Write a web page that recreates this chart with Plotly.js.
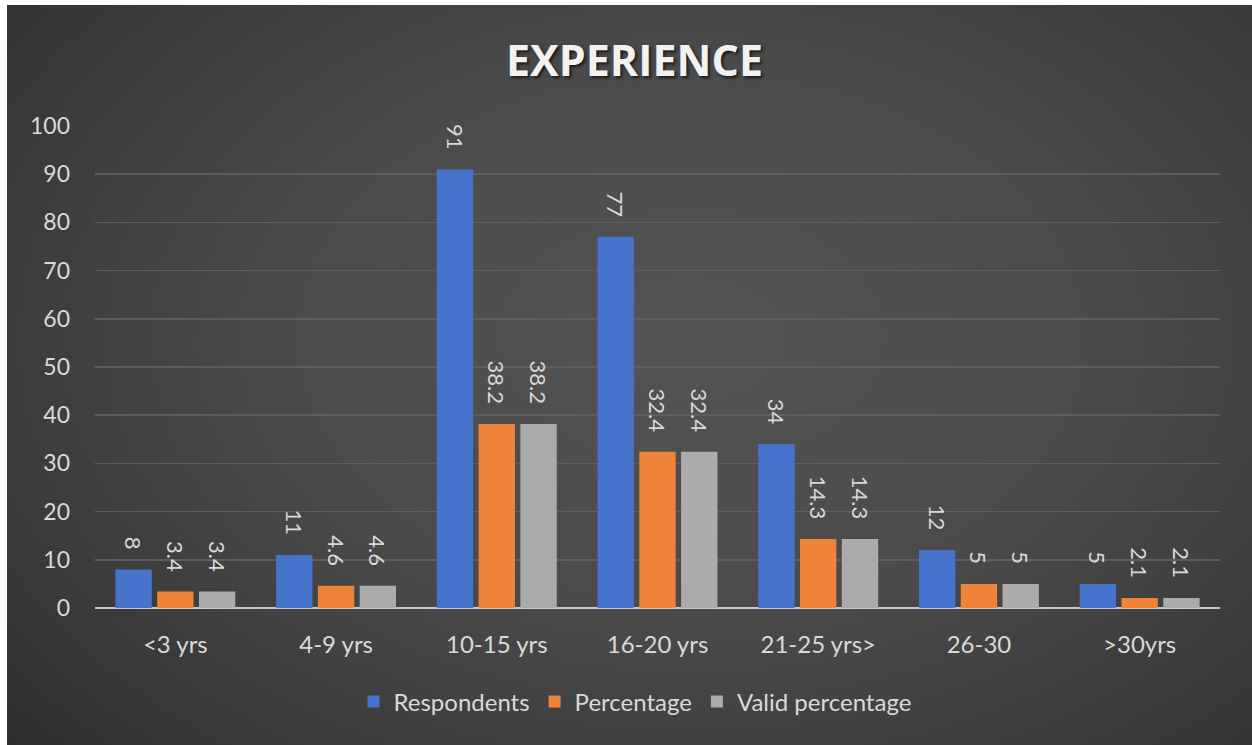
<!DOCTYPE html>
<html><head><meta charset="utf-8">
<script src="https://cdn.plot.ly/plotly-3.0.1.min.js"></script>
<style>
html,body{margin:0;padding:0;background:#fff;width:1252px;height:745px;overflow:hidden;}
#wrap{position:absolute;left:7px;top:5px;width:1245px;height:740px;
background:radial-gradient(ellipse 75% 85% at 55% 45%, #545454 0%, #4a4a4a 45%, #363636 85%, #2c2c2c 100%);}
#chart{width:1245px;height:740px;}
</style></head>
<body><div id="wrap"><div id="chart"></div></div>
<script>
const categories = ["<3 yrs","4-9 yrs","10-15 yrs","16-20 yrs","21-25 yrs>","26-30",">30yrs"];
const respondents = [8,11,91,77,34,12,5];
const percentage = [3.4,4.6,38.2,32.4,14.3,5,2.1];
const validPercentage = [3.4,4.6,38.2,32.4,14.3,5,2.1];
const seriesNames = ["Respondents","Percentage","Valid percentage"];
const colors = ["#4674cc","#f0833a","#ababab"];
const FONT = "Lato, 'Noto Sans', sans-serif";
const pad = "\u00a0\u00a0\u00a0";
function mk(name, vals, color){
  return {type:"bar", name:name, x:categories, y:vals,
    marker:{color:color},
    text: vals.map(v=>String(v)+pad), textposition:"outside", textangle:90,
    constraintext:"none", cliponaxis:false,
    textfont:{family:FONT,size:22,color:"#d9d9d9"},
    hoverinfo:"x+y"};
}
const data = [
  mk(seriesNames[0], respondents, colors[0]),
  mk(seriesNames[1], percentage, colors[1]),
  mk(seriesNames[2], validPercentage, colors[2])
];
const layout = {
  width:1245, height:740,
  paper_bgcolor:"rgba(0,0,0,0)", plot_bgcolor:"rgba(0,0,0,0)",
  margin:{l:88,r:32,t:121,b:137},
  title:{text:"<b>EXPERIENCE</b>", x:0.504, xanchor:"center", y:0.925, yanchor:"middle",
    font:{family:"'Open Sans', sans-serif",size:43,color:"#f2f2f2", shadow:"2px 2px 3px #1a1a1a"}},
  barmode:"group", bargap:0.22, bargroupgap:0.13,
  font:{family:FONT,color:"#d9d9d9",size:18},
  xaxis:{type:"category", showgrid:false, tickfont:{family:FONT,size:24,color:"#d9d9d9"},
    ticks:"", ticklabelstandoff:20, showline:false, zeroline:false},
  yaxis:{range:[0,100], dtick:10, showgrid:true, gridcolor:"#5e5e5e", gridwidth:1.5,
    zeroline:true, zerolinecolor:"#c8c8c8", zerolinewidth:2.5,
    tickfont:{family:FONT,size:23,color:"#d9d9d9"}, ticks:"", ticklabelstandoff:24},
  showlegend:true,
  legend:{orientation:"h", x:0.48, xanchor:"center", y:-0.195, yanchor:"middle",
    font:{family:FONT,size:24,color:"#d9d9d9"}, itemwidth:30, traceorder:"normal"},
};
Plotly.newPlot("chart", data, layout, {displayModeBar:false, staticPlot:true});
</script></body></html>
